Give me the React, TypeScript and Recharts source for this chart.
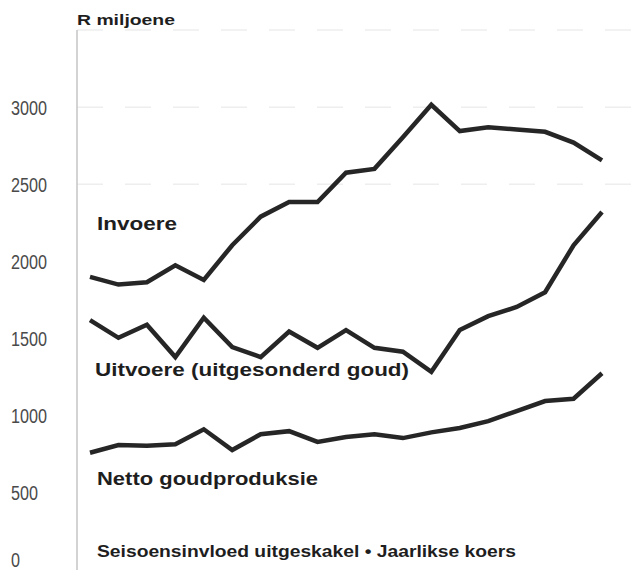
import { LineChart, Line, XAxis, YAxis, ReferenceLine } from "recharts"

// one point per period (R miljoen)
const periods = [
  "p1", "p2", "p3", "p4", "p5", "p6", "p7", "p8", "p9", "p10",
  "p11", "p12", "p13", "p14", "p15", "p16", "p17", "p18", "p19",
]
const invoere = [
  1900, 1850, 1865, 1975, 1880, 2105, 2290, 2385, 2385, 2575,
  2600, 2805, 3015, 2845, 2870, 2855, 2840, 2770, 2655,
]
const uitvoere = [
  1620, 1505, 1590, 1380, 1635, 1445, 1380, 1545, 1440, 1555,
  1440, 1415, 1285, 1555, 1645, 1705, 1800, 2105, 2320,
]
const netto = [
  760, 810, 805, 815, 912, 778, 880, 900, 830, 862,
  880, 855, 892, 920, 965, 1030, 1095, 1110, 1275,
]
const yTicks = [0, 500, 1000, 1500, 2000, 2500, 3000]
const gridValues = [3500, 3000, 2500]

const data = periods.map((p, i) => ({
  period: p,
  invoere: invoere[i],
  uitvoere: uitvoere[i],
  netto: netto[i],
}))

const ink = "#262626"

function TickLabel({ y, payload }: any) {
  const s = String(payload.value)
  // the bottom label sits right on the page edge, keep it inside
  const base = Math.min(y + 7.5, 567)
  return (
    <text
      x={11}
      y={base}
      fontFamily="'Liberation Sans Narrow', 'Liberation Sans', sans-serif"
      fontSize={20}
      fill="#4a4a4a"
      textLength={s.length * 9}
      lengthAdjust="spacingAndGlyphs"
    >
      {s}
    </text>
  )
}

const labels = [
  { text: "R miljoene", x: 77, y: 25, size: 15, w: 98 },
  { text: "Invoere", x: 97, y: 230, size: 18, w: 80 },
  { text: "Uitvoere (uitgesonderd goud)", x: 95, y: 376, size: 19, w: 314 },
  { text: "Netto goudproduksie", x: 97, y: 485, size: 18, w: 221 },
  { text: "Seisoensinvloed uitgeskakel • Jaarlikse koers", x: 97, y: 557, size: 16, w: 419 },
]

export default function App() {
  return (
    <div style={{ position: "absolute", left: 0, top: 0, width: 644, height: 573, background: "#fff" }}>
      <LineChart
        width={644}
        height={573}
        data={data}
        margin={{ top: 30, right: 4, bottom: 3, left: 0 }}
      >
        <XAxis dataKey="period" hide padding={{ left: 13, right: 38 }} />
        <YAxis
          width={77}
          domain={[0, 3500]}
          ticks={yTicks}
          interval={0}
          tickLine={false}
          axisLine={{ stroke: "#c4c4c4", strokeWidth: 1.5 }}
          tick={<TickLabel />}
        />
        {gridValues.map((v) => (
          <ReferenceLine key={v} y={v} stroke="#eeeeee" strokeWidth={1.5} strokeDasharray="26 22" />
        ))}
        <Line type="linear" dataKey="invoere" stroke={ink} strokeWidth={4.5} dot={false} isAnimationActive={false} />
        <Line type="linear" dataKey="uitvoere" stroke={ink} strokeWidth={4.5} dot={false} isAnimationActive={false} />
        <Line type="linear" dataKey="netto" stroke={ink} strokeWidth={4.5} dot={false} isAnimationActive={false} />
      </LineChart>
      <svg width={644} height={573} style={{ position: "absolute", left: 0, top: 0, pointerEvents: "none" }}>
        {labels.map((l) => (
          <text
            key={l.text}
            x={l.x}
            y={l.y}
            fontFamily="'Liberation Sans', Arial, sans-serif"
            fontWeight="bold"
            fontSize={l.size}
            fill="#1e1e1e"
            textLength={l.w}
            lengthAdjust="spacingAndGlyphs"
          >
            {l.text}
          </text>
        ))}
      </svg>
    </div>
  )
}
